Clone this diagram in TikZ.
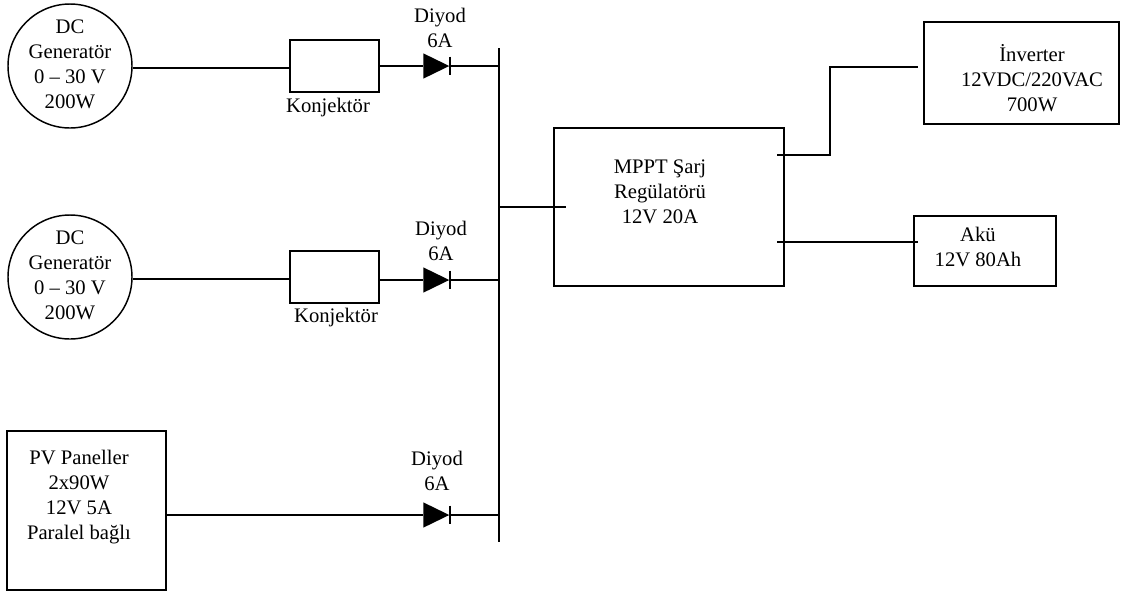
\documentclass[tikz,border=0pt]{standalone}
\usepackage{fontspec}
\setmainfont{Liberation Serif}
\usetikzlibrary{shapes.geometric}
\tikzset{
    wire/.style={line width=1.1pt},
    heavywire/.style={line width=1.9pt},
    boxnode/.style={draw, line width=1.1pt, inner sep=0pt},
    gennode/.style={draw, circle, line width=1.1pt, inner sep=0pt, minimum size=93pt},
    diodenode/.style={isosceles triangle, isosceles triangle stretches, fill=black, inner sep=0pt, minimum width=19pt, minimum height=19.5pt},
    txt/.style={align=center, font=\fontsize{15.5}{18.75}\selectfont, inner sep=0pt}
}
\begin{document}
\begin{tikzpicture}[x=0.75pt, y=-0.75pt]
    \useasboundingbox (0,0) rectangle (1128,594);

    % Sources
    \node[gennode] (gen1) at (70,66) {};
    \node[gennode] (gen2) at (70,277) {};
    \node[boxnode, minimum width=119.25pt, minimum height=119.25pt] (pv) at (86.5,510.5) {};

    % Konjektor boxes
    \node[boxnode, minimum width=66.75pt, minimum height=39pt] (kon1) at (334.5,66) {};
    \node[boxnode, minimum width=66.75pt, minimum height=39pt] (kon2) at (334.5,277) {};

    % Diodes
    \node[diodenode, anchor=west] (d1) at (423,66) {};
    \node[diodenode, anchor=west] (d2) at (423,280) {};
    \node[diodenode, anchor=west] (d3) at (423,515) {};

    % Right hand side
    \node[boxnode, minimum width=172.5pt, minimum height=118.5pt] (mppt) at (669,207) {};
    \node[boxnode, minimum width=146.25pt, minimum height=76.5pt] (inv) at (1021.5,73) {};
    \node[boxnode, minimum width=106.5pt, minimum height=52.5pt] (aku) at (985,251) {};

    % Bus bar
    \coordinate (bustop) at (499,48);
    \coordinate (busend) at (499,542);
    \draw[wire] (bustop) -- (busend);

    % Free wire ends
    \coordinate (pvthick) at (378,515);
    \coordinate (mpptin) at (566,207);
    \coordinate (invout) at (777,155);
    \coordinate (invbendlow) at (830,155);
    \coordinate (invbendhigh) at (830,67);
    \coordinate (invin) at (918,67);
    \coordinate (akuout) at (777,242);
    \coordinate (akuin) at (918,242);

    % Generator wires
    \draw[wire] ([yshift=-1.5pt]gen1.east) -- ([yshift=-1.5pt]kon1.west);
    \draw[wire] ([yshift=-1.5pt]gen2.east) -- ([yshift=-1.5pt]kon2.west);
    \draw[heavywire] (kon1.east |- d1.west) -- (d1.west);
    \draw[heavywire] (kon2.east |- d2.west) -- (d2.west);

    % PV wire
    \draw[wire] (pv.east |- d3.west) -- (d3.west);
    \draw[heavywire] (pvthick) -- (d3.west);

    % Cathode bars and wires to bus
    \draw[wire] ([yshift=7pt]d1.apex) -- ([yshift=-7pt]d1.apex);
    \draw[wire] ([yshift=7pt]d2.apex) -- ([yshift=-7pt]d2.apex);
    \draw[wire] ([yshift=7pt]d3.apex) -- ([yshift=-7pt]d3.apex);
    \draw[wire] (d1.apex) -- (d1.apex -| bustop);
    \draw[wire] (d2.apex) -- (d2.apex -| bustop);
    \draw[wire] (d3.apex) -- (d3.apex -| bustop);

    % Regulator wires
    \draw[wire] (mpptin -| bustop) -- (mpptin);
    \draw[wire] (invout) -- (invbendlow) -- (invbendhigh) -- (invin);
    \draw[wire] (akuout) -- (akuin);

    % Labels
    \node[txt] (gen1text) at (70,64) {DC\\Generatör\\0 – 30 V\\200W};
    \node[txt] (gen2text) at (70,275) {DC\\Generatör\\0 – 30 V\\200W};
    \node[txt] (pvtext) at (79,497) {PV Paneller\\2x90W\\12V 5A\\Paralel bağlı};
    \node[txt] (kon1text) at (328,108) {Konjektör};
    \node[txt] (kon2text) at (336,318) {Konjektör};
    \node[txt] (d1text) at (440,28) {Diyod\\6A};
    \node[txt] (d2text) at (441,241) {Diyod\\6A};
    \node[txt] (d3text) at (437,471) {Diyod\\6A};
    \node[txt] (mppttext) at (660,192) {MPPT Şarj\\Regülatörü\\12V 20A};
    \node[txt] (invtext) at (1032,78) {İnverter\\12VDC/220VAC\\700W};
    \node[txt] (akutext) at (978,247) {Akü\\12V 80Ah};
\end{tikzpicture}
\end{document}
